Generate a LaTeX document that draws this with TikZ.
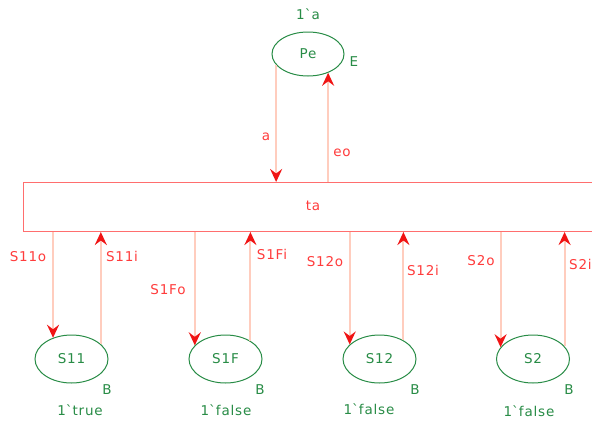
\documentclass[tikz,border=0pt]{standalone}
\usepackage{fontspec}
\setmainfont[LetterSpace=6]{DejaVu Sans}
\usetikzlibrary{shapes.geometric,arrows.meta}
\definecolor{pgreen}{RGB}{40,140,70}
\definecolor{tred}{RGB}{255,60,60}
\definecolor{rectc}{RGB}{255,110,110}
\definecolor{arcc}{RGB}{255,205,190}
\definecolor{ared}{RGB}{240,20,20}
\begin{document}
\begin{tikzpicture}[x=1pt,y=-1pt,
  every node/.style={font=\fontsize{13.5}{15}\selectfont, inner sep=0pt},
  place/.style={ellipse, draw=pgreen, line width=1pt, text=pgreen, minimum width=73pt, minimum height=48pt},
  glab/.style={text=pgreen},
  rlab/.style={text=tred},
  arc/.style={draw=arcc, line width=2pt, -{Stealth[length=13pt,width=12pt,inset=4.5pt,color=ared]}}]
\useasboundingbox (0,0) rectangle (592,421);
\clip (0,0) rectangle (592,421);
\fill[white] (0,0) rectangle (592,421);

% transition
\node[draw=rectc, line width=1pt, minimum width=597pt, minimum height=49pt, anchor=north west] (ta) at (23,182) {};
\node[rlab] (talab) at (313,206) {ta};

% top place
\node[place, minimum width=72pt, minimum height=44pt] (Pe) at (308,54) {Pe};
\node[glab] (Pemark) at (308,14) {1\textasciigrave a};
\node[glab] (PeE) at (354,62) {E};

% bottom places
\node[place] (S11) at (71.5,359) {S11};
\node[place] (S1F) at (225.5,359) {S1F};
\node[place] (S12) at (379.5,359) {S12};
\node[place] (S2) at (533,359) {S2};

\node[glab] (B1) at (107,390) {B};
\node[glab] (B2) at (260,390) {B};
\node[glab] (B3) at (415,390) {B};
\node[glab] (B4) at (569,390) {B};

\node[glab] (m1) at (80,410) {1\textasciigrave true};
\node[glab] (m2) at (226,410) {1\textasciigrave false};
\node[glab] (m3) at (369,409) {1\textasciigrave false};
\node[glab] (m4) at (529,411) {1\textasciigrave false};

% arcs top
\draw[arc] (Pe.199.9) -- (Pe.199.9 |- ta.north);
\draw[arc] (Pe.317.6 |- ta.north) -- (Pe.317.6);
\node[rlab] (la) at (266,137) {a};
\node[rlab] (leo) at (342,153) {eo};

% arcs bottom
\draw[arc] (S11.131.8 |- ta.south) -- (S11.131.8);
\draw[arc] (S11.27.8) -- (S11.27.8 |- ta.south);
\draw[arc] (S1F.156.6 |- ta.south) -- (S1F.156.6);
\draw[arc] (S1F.36.0) -- (S1F.36.0 |- ta.south);
\draw[arc] (S12.154.4 |- ta.south) -- (S12.154.4);
\draw[arc] (S12.38.1) -- (S12.38.1 |- ta.south);
\draw[arc] (S2.160.2 |- ta.south) -- (S2.160.2);
\draw[arc] (S2.22.3) -- (S2.22.3 |- ta.south);

\node[rlab] (l1) at (28,257) {S11o};
\node[rlab] (l2) at (122,256) {S11i};
\node[rlab] (l3) at (168,290) {S1Fo};
\node[rlab] (l4) at (272,254) {S1Fi};
\node[rlab] (l5) at (325,262) {S12o};
\node[rlab] (l6) at (423,270) {S12i};
\node[rlab] (l7) at (481,261) {S2o};
\node[rlab, anchor=west] (l8) at (569,264) {S2i};
\end{tikzpicture}
\end{document}
